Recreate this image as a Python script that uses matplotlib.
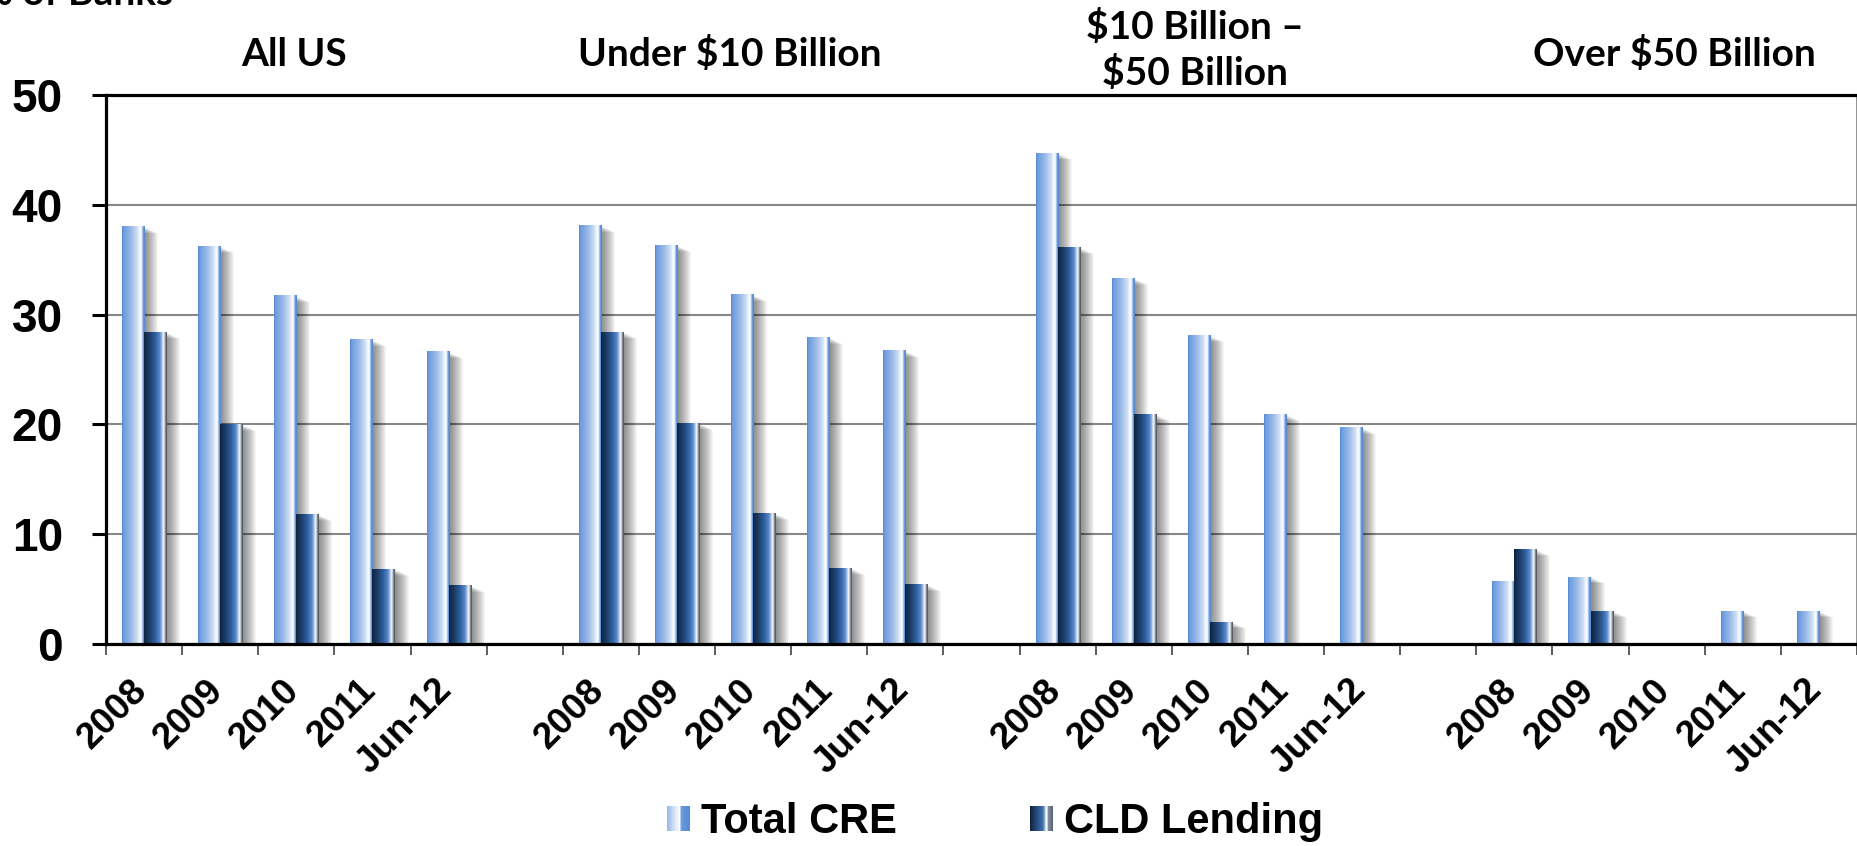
import numpy as np
import matplotlib
matplotlib.use("Agg")
import matplotlib.pyplot as plt
import matplotlib.transforms as mtransforms
from matplotlib.colors import LinearSegmentedColormap
from matplotlib.patches import Rectangle
from matplotlib.legend_handler import HandlerBase

# ---- data: % of banks above CRE / CLD concentration thresholds ----
periods = ["2008", "2009", "2010", "2011", "Jun-12"]
group_titles = ["All US", "Under $10 Billion", "$10 Billion \u2013\n$50 Billion", "Over $50 Billion"]

all_us_cre = [38.0, 36.2, 31.7, 27.7, 26.6]
all_us_cld = [28.4, 20.0, 11.8, 6.8, 5.3]
under10_cre = [38.1, 36.3, 31.8, 27.9, 26.7]
under10_cld = [28.4, 20.1, 11.9, 6.9, 5.4]
mid_cre = [44.7, 33.3, 28.1, 20.9, 19.7]
mid_cld = [36.1, 20.9, 2.0, 0.0, 0.0]
over50_cre = [5.7, 6.1, 0.0, 3.0, 3.0]
over50_cld = [8.6, 3.0, 0.0, 0.0, 0.0]

y_ticks = [0, 10, 20, 30, 40, 50]
series_names = ["Total CRE", "CLD Lending"]

cre_groups = [all_us_cre, under10_cre, mid_cre, over50_cre]
cld_groups = [all_us_cld, under10_cld, mid_cld, over50_cld]

# ---- styling ----
light_cmap = LinearSegmentedColormap.from_list("light_bar", [
    (0.00, "#4E84D2"), (0.06, "#6C9BDD"), (0.40, "#9BBBE9"),
    (0.68, "#D2E1F5"), (0.80, "#FFFFFF"), (0.87, "#DDE8F8"),
    (0.92, "#6A9ADA"), (1.00, "#4F86D3")])
dark_cmap = LinearSegmentedColormap.from_list("dark_bar", [
    (0.00, "#0E2440"), (0.22, "#1A3B67"), (0.50, "#30609E"),
    (0.70, "#5A8BD0"), (0.80, "#B8CDEA"), (0.85, "#FFFFFF"),
    (0.90, "#BFC6CE"), (0.95, "#6A707A"), (1.00, "#4A5058")])
legend_light_cmap = LinearSegmentedColormap.from_list("leg_light", [
    (0.00, "#96B8E8"), (0.55, "#FFFFFF"), (0.62, "#6A98DA"), (1.00, "#548AD5")])
legend_dark_cmap = LinearSegmentedColormap.from_list("leg_dark", [
    (0.00, "#0E2440"), (0.55, "#3C6DAE"), (0.72, "#FFFFFF"),
    (0.80, "#8090A4"), (1.00, "#5A6270")])

bar_w = 0.29
arial = "Liberation Sans"
title_font = "Lato"

fig = plt.figure(figsize=(18.58, 8.46), dpi=100)
ax = fig.add_axes([0.05705, 0.2388, 0.9424, 0.6489])

grad = np.linspace(0, 1, 256).reshape(1, -1)
label_pos, label_txt = [], []


def draw_series(xs, vals, offset, cmap):
    bars = ax.bar(xs + offset, vals, width=bar_w, color="none",
                  linewidth=0, zorder=3)
    for rect in bars:
        h = rect.get_height()
        if h <= 0:
            continue
        x0 = rect.get_x()
        x1 = x0 + rect.get_width()
        # soft drop shadow to the right of each bar
        for k in range(1, 15):
            shift = mtransforms.ScaledTranslation(k / 100, -0.45 * k / 100,
                                                  fig.dpi_scale_trans)
            ax.add_patch(Rectangle((x0, 0), x1 - x0, h, facecolor="black",
                                   alpha=0.04, linewidth=0, zorder=2.4,
                                   transform=ax.transData + shift))
        ax.imshow(grad, cmap=cmap, extent=(x0, x1, 0, h), aspect="auto",
                  interpolation="bilinear", zorder=3)


for g in range(4):
    xs = g * 6 + np.arange(len(periods), dtype=float)
    draw_series(xs, cre_groups[g], -bar_w / 2, light_cmap)
    draw_series(xs, cld_groups[g], bar_w / 2, dark_cmap)
    label_pos.extend(xs)
    label_txt.extend(periods)

n_cats = 23
ax.set_xlim(-0.5, n_cats - 0.5)
ax.set_ylim(0, 50)

# gridlines
ax.set_yticks(y_ticks)
ax.yaxis.grid(True, color="#878787", linewidth=1.5, zorder=1)
ax.set_axisbelow(True)

# spines
for side in ["top", "left", "bottom"]:
    ax.spines[side].set_color("black")
    ax.spines[side].set_linewidth(2.3)
    ax.spines[side].set_zorder(10)
ax.spines["right"].set_color("#808080")
ax.spines["right"].set_linewidth(1.2)

# y axis
ax.tick_params(axis="y", direction="out", length=10, width=2.2,
               pad=21, labelsize=33, colors="black")
for lab in ax.get_yticklabels():
    lab.set_fontfamily(arial)
    lab.set_fontweight("bold")

# x axis: labels at category centres, tick marks at category boundaries
ax.set_xticks(label_pos)
ax.set_xticklabels(label_txt, rotation=45, ha="right", va="center",
                   rotation_mode="anchor", fontsize=26.5, fontweight="bold",
                   fontfamily=arial)
ax.tick_params(axis="x", which="major", length=0, pad=29.5)
ax.set_xticks(np.arange(-0.5, n_cats, 1.0), minor=True)
ax.tick_params(axis="x", which="minor", direction="out", length=8,
               width=1.3, color="#505050")
nudge = mtransforms.ScaledTranslation(-2 / 100, 0, fig.dpi_scale_trans)
for lab in ax.get_xticklabels():
    lab.set_transform(lab.get_transform() + nudge)

# group headings
heading_xy = [(294, 54), (730, 54), (1195, 50), (1674, 54)]
for text, (px, py) in zip(group_titles, heading_xy):
    fig.text(px / 1858, 1 - py / 846, text, ha="center", va="center",
             fontfamily=title_font, fontweight="bold", fontsize=28,
             linespacing=1.33)

fig.text(173 / 1858, 1 - 5 / 846, "% of Banks", ha="right", va="baseline",
         fontfamily=title_font, fontweight="bold", fontsize=28)


# legend with gradient swatches
class GradientSwatch(HandlerBase):
    def __init__(self, cmap):
        super().__init__()
        self.cmap = cmap

    def create_artists(self, legend, orig_handle, xdescent, ydescent,
                       width, height, fontsize, trans):
        n = 30
        arts = []
        for i in range(n):
            arts.append(Rectangle((-xdescent + i * width / n, -ydescent),
                                  width / n * 1.08, height,
                                  facecolor=self.cmap((i + 0.5) / n),
                                  edgecolor="none", transform=trans))
        return arts


h_cre = Rectangle((0, 0), 1, 1)
h_cld = Rectangle((0, 0), 1, 1)
fig.legend(handles=[h_cre, h_cld], labels=series_names,
           handler_map={h_cre: GradientSwatch(legend_light_cmap),
                        h_cld: GradientSwatch(legend_dark_cmap)},
           ncol=2, frameon=False, loc="center",
           bbox_to_anchor=(0.5355, 0.0284),
           prop={"family": arial, "weight": "bold", "size": 30},
           handlelength=0.55, handleheight=0.55, handletextpad=0.26,
           columnspacing=3.2)

fig.savefig("out.png", dpi=100, facecolor="white")
